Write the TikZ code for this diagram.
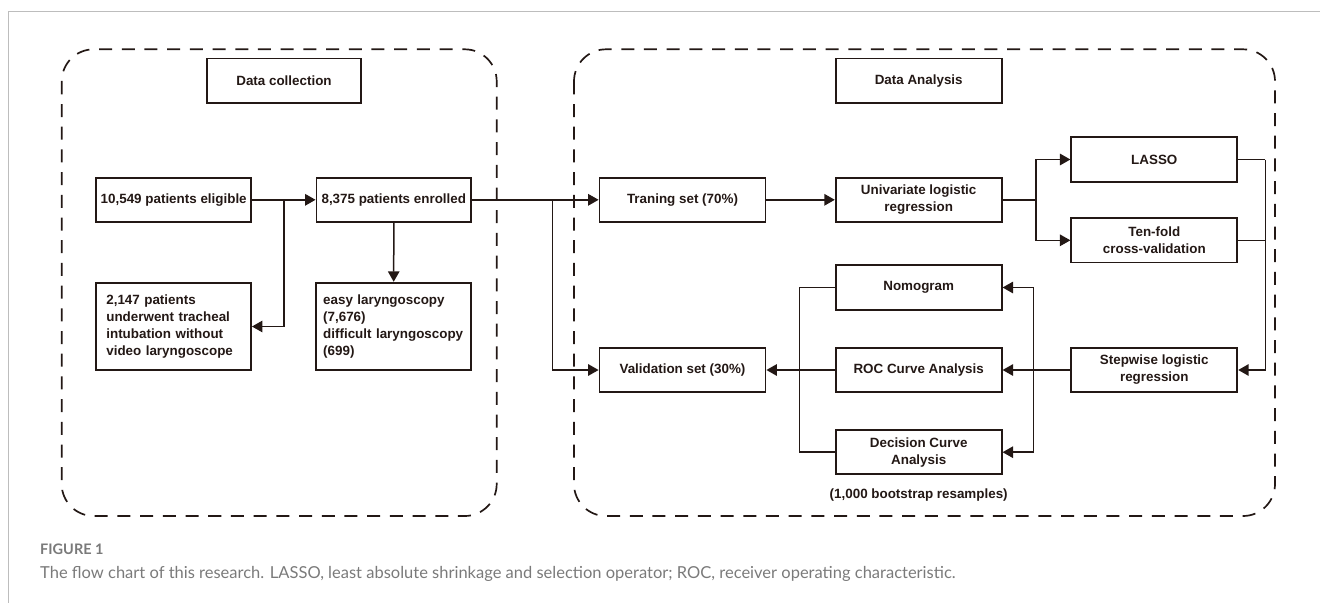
\documentclass[tikz,border=0pt]{standalone}
\usepackage{fontspec}
\setmainfont{Liberation Sans}
\newfontfamily\capfont{Lato}
\usetikzlibrary{arrows.meta}
\definecolor{ink}{HTML}{231815}
\definecolor{capgray}{HTML}{7A7A7A}
\definecolor{framegray}{HTML}{BDBDBD}
\hyphenpenalty=10000
\exhyphenpenalty=10000
\begin{document}
\begin{tikzpicture}[x=1pt,y=-1pt,
  box/.style={draw=ink, line width=1.8pt, text=ink, inner sep=0pt, align=center,
    font=\fontsize{13.4}{17}\selectfont\bfseries},
  lbox/.style={box, minimum width=154.7pt, minimum height=44.3pt},
  rbox/.style={box, minimum width=166pt, minimum height=44.3pt},
  tallbox/.style={box, align=left, minimum height=87.6pt},
  conn/.style={draw=ink, line width=1.5pt},
  arr/.style={conn, -{Triangle[length=10.5pt,width=11.5pt]}},
  dashframe/.style={draw=ink, line width=1.7pt, dash pattern=on 13pt off 9.7pt, rounded corners=32pt}
]
\useasboundingbox (0,0) rectangle (1320,603);
\draw[framegray, line width=1pt] (1320,11) -- (8,11) -- (8,603);

% dashed panels
\draw[dashframe] (61.7,49.3) rectangle (496.7,516);
\draw[dashframe] (574,49.3) rectangle (1275,516);

% left panel
\node[lbox] (dc) at (284,80.7) {Data collection};
\node[lbox] (elig) at (173.7,199.8) {10,549 patients eligible};
\node[lbox] (enr) at (393.8,199.8) {8,375 patients enrolled};
\node[tallbox, text width=134.7pt, inner xsep=10pt] (excl) at (173.7,326.5)
  {2,147 patients\\underwent tracheal\\intubation without\\video laryngoscope};
\node[tallbox, text width=141pt, inner xsep=7pt] (easy) at (393.7,326.5)
  {easy laryngoscopy\\(7,676)\\difficult laryngoscopy\\(699)};

% right panel
\node[rbox] (da) at (918.7,80.7) {Data Analysis};
\node[rbox] (train) at (682.5,199.8) {Traning set (70\%)};
\node[rbox] (uni) at (918.7,199.8) {Univariate logistic\\regression};
\node[rbox] (lasso) at (1154.3,159.5) {LASSO};
\node[rbox] (ten) at (1154.3,240.3) {Ten-fold\\cross-validation};
\node[rbox] (stepw) at (1154.3,370) {Stepwise logistic\\regression};
\node[rbox] (nomo) at (918.7,287.5) {Nomogram};
\node[rbox] (roc) at (918.7,370) {ROC Curve Analysis};
\node[rbox] (dca) at (918.7,452.2) {Decision Curve\\Analysis};
\node[rbox] (val) at (682.5,370) {Validation set (30\%)};
\node[text=ink, font=\fontsize{13.4}{17}\selectfont\bfseries] (boot) at (918.7,495) {(1,000 bootstrap resamples)};

% junction coordinates
\coordinate (j1) at (284,199.8);
\coordinate (j2) at (552.3,199.8);
\coordinate (j3) at (1036,199.8);
\coordinate (j4) at (1265.3,159.5);
\coordinate (j5) at (1033.3,370);
\coordinate (j6) at (799.3,370);

% connectors
\draw[arr] (elig.east) -- (enr.west);
\draw[arr] (j1) |- (excl.east);
\draw[arr] (enr.south) -- (easy.north);
\draw[arr] (enr.east) -- (train.west);
\draw[arr] (j2) |- (val.west);
\draw[arr] (train.east) -- (uni.west);
\draw[conn] (uni.east) -- (j3);
\draw[arr] (j3) |- (lasso.west);
\draw[arr] (j3) |- (ten.west);
\draw[conn] (lasso.east) -- (j4);
\draw[conn] (ten.east) -- (ten.east -| j4);
\draw[arr] (j4) |- (stepw.east);
\draw[arr] (stepw.west) -- (roc.east);
\draw[arr] (j5) |- (nomo.east);
\draw[arr] (j5) |- (dca.east);
\draw[conn] (nomo.west) -| (j6) |- (dca.west);
\draw[arr] (roc.west) -- (val.east);

% caption
\node[anchor=base west, inner sep=0pt, text=capgray, font=\capfont\fontsize{14.5}{17}\selectfont\bfseries] (figlab) at (40,554) {FIGURE 1};
\node[anchor=base west, inner sep=0pt, text=capgray, font=\capfont\fontsize{16.5}{20}\selectfont] (cap) at (40,578.3)
  {The flow chart of this research. LASSO, least absolute shrinkage and selection operator; ROC, receiver operating characteristic.};
\end{tikzpicture}
\end{document}
